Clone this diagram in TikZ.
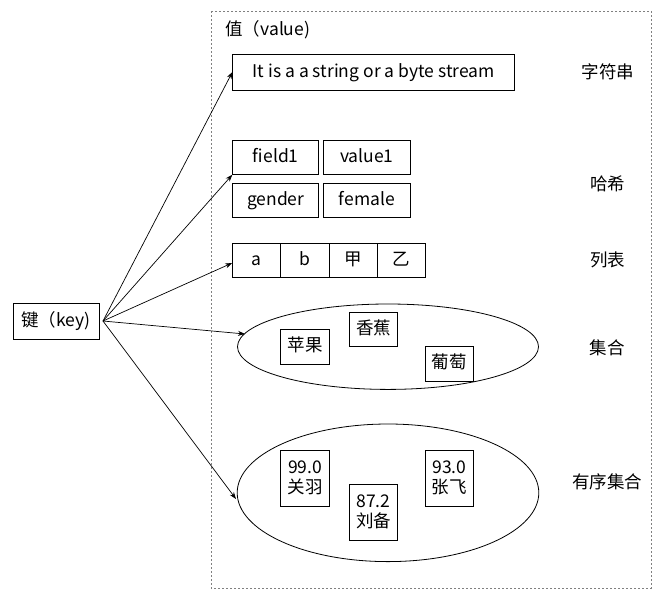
\documentclass[tikz,border=0pt]{standalone}
\usepackage{fontspec}
\setmainfont{Noto Sans CJK SC}
\usetikzlibrary{arrows.meta}
\begin{document}
\begin{tikzpicture}[x=1pt,y=-1pt,
  font=\fontsize{17.5}{20}\selectfont,
  line width=0.8pt,
  box/.style={draw,inner sep=0pt,align=center,text height=13pt,text depth=3pt},
  mbox/.style={draw,inner sep=0pt,align=center},
  lbl/.style={inner sep=0pt},
  arr/.style={-{Stealth[length=7pt,width=5pt]},line width=0.7pt}]
\useasboundingbox (0,0) rectangle (663,595);
\draw[gray,line width=0.9pt,dash pattern=on 2pt off 2pt] (211,11) rectangle (651,588);
\node[lbl,anchor=west] (title) at (225,30) {值（value)};
% string
\node[box,minimum width=282pt,minimum height=36pt] (str) at (373.8,72) {It is a a string or a byte stream};
\node[lbl] (lstr) at (608,72) {字符串};
% hash
\node[box,minimum width=86pt,minimum height=34.3pt] (f1) at (275.7,157.2) {field1};
\node[box,minimum width=86.3pt,minimum height=34.3pt] (v1) at (366.85,157.2) {value1};
\node[box,minimum width=86pt,minimum height=34.3pt] (f2) at (275.7,200.3) {gender};
\node[box,minimum width=86.3pt,minimum height=34.3pt] (v2) at (366.85,200.3) {female};
\node[lbl] (lhash) at (607.5,184) {哈希};
% list
\node[box,minimum width=48.3pt,minimum height=34.4pt] (l1) at (256.7,260.5) {a};
\node[box,minimum width=48.3pt,minimum height=34.4pt] (l2) at (304.85,260.5) {b};
\node[box,minimum width=48.3pt,minimum height=34.4pt] (l3) at (353.15,260.5) {甲};
\node[box,minimum width=48.3pt,minimum height=34.4pt] (l4) at (401.45,260.5) {乙};
\node[lbl] (llist) at (607.5,260) {列表};
% key
\node[box,minimum width=86pt,minimum height=36pt] (key) at (56,321) {键（key)};
% set
\draw (388,346.7) ellipse [x radius=150.5, y radius=42.7];
\node[box,minimum width=48.6pt,minimum height=34.7pt] (s1) at (305,346.7) {苹果};
\node[box,minimum width=48.4pt,minimum height=34.4pt] (s2) at (373.5,329.5) {香蕉};
\node[box,minimum width=48pt,minimum height=34.3pt] (s3) at (449.3,363.8) {葡萄};
\node[lbl] (lset) at (607,348) {集合};
% zset
\draw (388,492.8) ellipse [x radius=150.8, y radius=68.8];
\node[mbox,minimum width=48.6pt,minimum height=56pt] (z1) at (305,478) {99.0\\关羽};
\node[mbox,minimum width=48.4pt,minimum height=56pt] (z2) at (373.5,512.3) {87.2\\刘备};
\node[mbox,minimum width=48pt,minimum height=56pt] (z3) at (449.3,478) {93.0\\张飞};
\node[lbl] (lzset) at (607,482) {有序集合};
% arrows
\coordinate (src) at (103,321);
\coordinate (tset) at (245,334);
\coordinate (tzset) at (236,499);
\draw[arr] (src) -- (str.west);
\draw[arr] (src) -- (f1.south west);
\draw[arr] (src) -- ([yshift=-2.5pt]l1.west);
\draw[arr] (src) -- (tset);
\draw[arr] (src) -- (tzset);
\end{tikzpicture}
\end{document}
